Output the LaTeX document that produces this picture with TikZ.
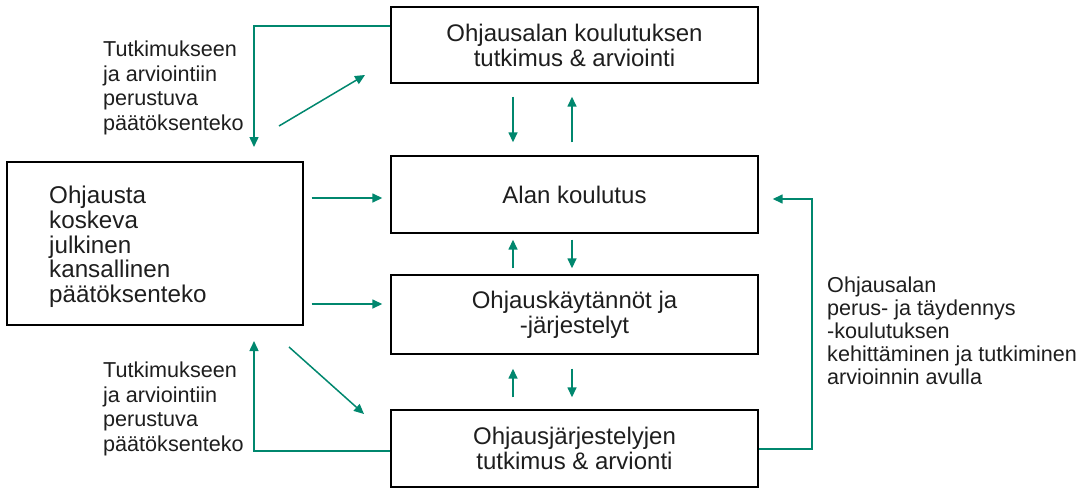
\documentclass[tikz,border=0pt]{standalone}
\usepackage{fontspec}
\setmainfont{Liberation Sans}
\usetikzlibrary{arrows.meta}
\definecolor{grn}{RGB}{0,135,110}
\definecolor{txt}{RGB}{30,30,30}
\begin{document}
\begin{tikzpicture}[x=1pt,y=-1pt,
  box/.style={draw=black,line width=1.4pt,inner sep=0pt,align=center,text=txt,font=\fontsize{24}{25}\selectfont},
  arr/.style={draw=grn,line width=1.5pt,-{Triangle[length=10pt,width=9pt]}},
  lbl/.style={inner sep=0pt,align=left,anchor=north west,text=txt,font=\fontsize{21.6}{24.5}\selectfont}]
\useasboundingbox (0,0) rectangle (1092,488);
% boxes
\node[box,minimum width=367pt,minimum height=76pt] (top) at (574.5,45) {Ohjausalan koulutuksen\\tutkimus \& arviointi};
\node[box,minimum width=367pt,minimum height=77pt] (alan) at (574.5,194.5) {Alan koulutus};
\node[box,minimum width=367pt,minimum height=79pt] (kay) at (574.5,314.5) {Ohjauskäytännöt ja\\-järjestelyt};
\node[box,minimum width=367pt,minimum height=77pt] (bot) at (574.5,448.5) {Ohjausjärjestelyjen\\tutkimus \& arvionti};
\node[box,minimum width=296pt,minimum height=163pt] (left) at (155,243.5) {};
\node[lbl,font=\fontsize{24.2}{24.75}\selectfont] (lefttxt) at (49,186) {Ohjausta\\koskeva\\julkinen\\kansallinen\\päätöksenteko};
% labels
\node[lbl] (tl) at (103,41) {Tutkimukseen\\ja arviointiin\\perustuva\\päätöksenteko};
\node[lbl] (bl) at (103,362) {Tutkimukseen\\ja arviointiin\\perustuva\\päätöksenteko};
\node[lbl,font=\fontsize{21.6}{23}\selectfont] (rl) at (827,277) {Ohjausalan\\perus- ja täydennys\\-koulutuksen\\kehittäminen ja tutkiminen\\arvioinnin avulla};
% free ends
\coordinate (tlend) at (254,147);
\coordinate (blend) at (254,341);
\coordinate (d1s) at (279,126);
\coordinate (d1e) at (365,75);
\coordinate (d2s) at (289,347);
\coordinate (d2e) at (364,414);
\coordinate (rtop) at (812,199);
% connectors
\draw[arr] (top.west |- 0,26) -| (tlend);
\draw[arr] (d1s) -- (d1e);
\draw[arr,shorten <=13pt,shorten >=13pt] (top.south -| 513,0) -- (alan.north -| 513,0);
\draw[arr,shorten <=13pt,shorten >=13pt] (alan.north -| 572,0) -- (top.south -| 572,0);
\draw[arr,shorten <=8pt,shorten >=8pt] (left.east |- 0,198) -- (alan.west |- 0,198);
\draw[arr,shorten <=8pt,shorten >=8pt] (left.east |- 0,304) -- (kay.west |- 0,304);
\draw[arr,shorten <=6pt,shorten >=6pt] (kay.north -| 513,0) -- (alan.south -| 513,0);
\draw[arr,shorten <=6pt,shorten >=6pt] (alan.south -| 572,0) -- (kay.north -| 572,0);
\draw[arr,shorten <=12pt,shorten >=14pt] (bot.north -| 513,0) -- (kay.south -| 513,0);
\draw[arr,shorten <=14pt,shorten >=12pt] (kay.south -| 572,0) -- (bot.north -| 572,0);
\draw[arr] (d2s) -- (d2e);
\draw[arr] (bot.west |- 0,451) -| (blend);
\draw[arr,shorten >=14pt] (bot.east |- 0,449) -| (rtop) -- (alan.east |- rtop);
\end{tikzpicture}
\end{document}
